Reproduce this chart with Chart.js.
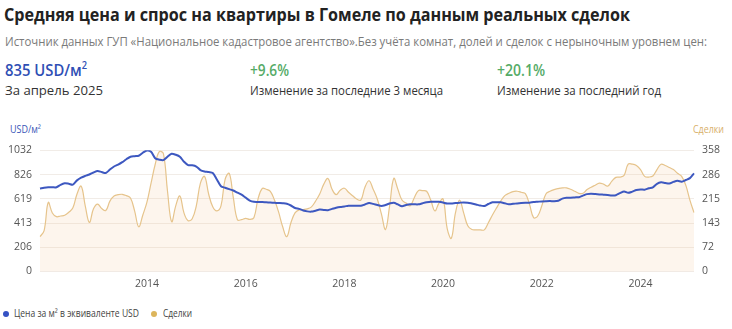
<!DOCTYPE html>
<html lang="ru">
<head>
<meta charset="utf-8">
<title>Средняя цена и спрос на квартиры в Гомеле</title>
<script src="https://cdn.jsdelivr.net/npm/chart.js@4/dist/chart.umd.min.js"></script>
<style>
  html, body { margin: 0; padding: 0; background: #fff; }
  body { width: 732px; height: 329px; position: relative; overflow: hidden; font-family: "Open Sans", "Noto Sans", sans-serif; color: #333; }
  .abs { position: absolute; white-space: nowrap; transform-origin: 0 50%; }
  .title { left: 4px; top: 2px; font-size: 18px; font-weight: 700; color: #222; }
  .source { left: 5px; top: 32px; font-size: 13px; color: #7a7a7a; }
  .big { top: 59px; font-size: 16px; font-weight: 600; }
  .big.blue { color: #2f4fb5; }
  .big.green { color: #55ab67; }
  .big sup { font-size: 10px; vertical-align: 7px; line-height: 0; }
  .cap { top: 81px; font-size: 13.5px; color: #333; }
  .axis-title { top: 122px; font-size: 10px; }
  #chartBox { position: absolute; left: 0; top: 136px; width: 732px; height: 164px; }
  .legend { top: 306px; font-size: 10.5px; color: #444; }
  .dot { position: absolute; top: 311px; width: 6px; height: 6px; border-radius: 50%; }
</style>
</head>
<body>
<div class="abs title" data-w="626">Средняя цена и спрос на квартиры в Гомеле по данным реальных сделок</div>
<div class="abs source" data-w="702">Источник данных ГУП «Национальное кадастровое агентство».Без учёта комнат, долей и сделок с нерыночным уровнем цен:</div>

<div class="abs big blue" style="left:5px" data-w="82">835 USD/м<sup>2</sup></div>
<div class="abs cap" style="left:5px" data-w="98">За апрель 2025</div>
<div class="abs big green" style="left:250px" data-w="39">+9.6%</div>
<div class="abs cap" style="left:250px" data-w="193">Изменение за последние 3 месяца</div>
<div class="abs big green" style="left:497px" data-w="48">+20.1%</div>
<div class="abs cap" style="left:497px" data-w="164">Изменение за последний год</div>

<div class="abs axis-title" style="left:10px; color:#3a56b8" data-w="31">USD/м²</div>
<div class="abs axis-title" style="left:693px; color:#d8b06a" data-w="31">Сделки</div>

<div id="chartBox"><canvas id="chart"></canvas></div>

<span class="dot" style="left:3px; background:#3552c4"></span>
<div class="abs legend" style="left:14px" data-w="125">Цена за м² в эквиваленте USD</div>
<span class="dot" style="left:151px; background:#dcb55c"></span>
<div class="abs legend" style="left:163px" data-w="29">Сделки</div>

<script>
// squeeze text blocks to their widths
document.querySelectorAll('[data-w]').forEach(el => {
  const w = el.getBoundingClientRect().width;
  el.style.transform = 'scaleX(' + (Number(el.dataset.w) / w) + ')';
});

// monthly series, Jan 2012 .. Apr 2025
const firstYear = 2012;
const monthCount = 160;

const priceUsd = [
  706, 713, 717, 717, 717, 738, 751, 747, 740, 776, 799, 814,
  826, 843, 856, 847, 839, 868, 894, 910, 931, 956, 977, 982,
  986, 1011, 1030, 1019, 965, 952, 948, 977, 1003, 994, 977, 935,
  906, 904, 894, 864, 852, 847, 839, 784, 726, 713, 701, 690,
  671, 654, 629, 604, 593, 592, 591, 589, 587, 585, 583, 581,
  577, 562, 541, 533, 520, 512, 510, 518, 527, 524, 522, 533,
  543, 550, 554, 560, 560, 560, 560, 571, 583, 576, 566, 558,
  566, 579, 586, 571, 556, 566, 572, 572, 572, 581, 589, 594,
  594, 594, 587, 579, 579, 583, 586, 588, 586, 579, 571, 562,
  558, 575, 589, 589, 589, 581, 573, 576, 580, 583, 585, 586,
  591, 594, 597, 599, 600, 598, 602, 621, 628, 629, 631, 633,
  646, 659, 661, 659, 656, 654, 652, 648, 650, 667, 681, 670,
  680, 694, 699, 697, 709, 717, 747, 759, 754, 749, 763, 772,
  765, 779, 795, 835
];

const deals = [
  103, 121, 204, 173, 162, 164, 166, 175, 188, 229, 252, 194,
  145, 185, 199, 186, 180, 208, 223, 227, 228, 224, 217, 179,
  132, 167, 205, 261, 316, 354, 348, 237, 147, 194, 223, 173,
  150, 156, 194, 261, 281, 229, 191, 179, 194, 272, 290, 218,
  153, 153, 157, 154, 159, 214, 245, 243, 237, 211, 176, 132,
  103, 144, 173, 182, 183, 185, 191, 208, 229, 258, 275, 243,
  227, 240, 246, 234, 224, 214, 211, 249, 268, 243, 214, 170,
  124, 194, 275, 243, 211, 202, 194, 218, 239, 239, 237, 211,
  179, 202, 214, 127, 98, 173, 211, 173, 135, 124, 123, 123,
  123, 144, 167, 188, 208, 224, 231, 236, 237, 234, 230, 199,
  159, 164, 194, 229, 237, 242, 245, 247, 247, 243, 237, 231,
  231, 242, 249, 255, 261, 258, 252, 266, 278, 279, 284, 317,
  317, 313, 301, 281, 279, 282, 301, 317, 313, 307, 301, 290,
  281, 255, 211, 174
];

const yearTicks = ['2014', '2016', '2018', '2020', '2022', '2024'];
const priceTicks = [0, 206.4, 412.8, 619.2, 825.6, 1032];
const dealTicks = [0, 71.6, 143.2, 214.8, 286.4, 358];

const months = [];
for (let i = 0; i < monthCount; i++) {
  const y = firstYear + Math.floor(i / 12);
  const m = String(i % 12 + 1).padStart(2, '0');
  months.push(y + '-' + m);
}

const tickFont = { family: '"Open Sans", "Noto Sans", sans-serif', size: 10.5 };
const roundTick = v => String(Math.round(v));

new Chart(document.getElementById('chart'), {
  type: 'line',
  data: {
    labels: months,
    datasets: [
      {
        label: 'Цена за м² в эквиваленте USD',
        data: priceUsd,
        yAxisID: 'price',
        borderColor: '#3d58c0',
        borderWidth: 2,
        pointRadius: 0,
        tension: 0.3,
        fill: false,
        order: 0
      },
      {
        label: 'Сделки',
        data: deals,
        yAxisID: 'deals',
        borderColor: '#e6c48c',
        borderWidth: 1.2,
        backgroundColor: 'rgba(245, 190, 140, 0.16)',
        pointRadius: 0,
        tension: 0.4,
        fill: 'origin',
        order: 1
      }
    ]
  },
  options: {
    responsive: true,
    maintainAspectRatio: false,
    animation: false,
    layout: { padding: 0 },
    plugins: { legend: { display: false }, tooltip: { enabled: false } },
    scales: {
      x: {
        grid: { display: false, drawTicks: false },
        border: { display: false },
        afterFit: s => { s.height = 28.5; },
        ticks: {
          autoSkip: false,
          maxRotation: 0,
          padding: 6,
          color: '#555',
          font: tickFont,
          callback: (v, i) => {
            const lbl = months[i];
            return lbl.endsWith('-03') && yearTicks.includes(lbl.slice(0, 4)) ? lbl.slice(0, 4) : '';
          }
        }
      },
      price: {
        position: 'left',
        min: 0,
        max: 1032,
        afterFit: s => { s.width = 40; },
        afterBuildTicks: s => { s.ticks = priceTicks.map(v => ({ value: v })); },
        grid: { color: '#f1ece7', drawTicks: false },
        border: { display: false },
        ticks: { padding: 8, color: '#555', font: tickFont, callback: roundTick }
      },
      deals: {
        position: 'right',
        min: 0,
        max: 358,
        afterFit: s => { s.width = 38; },
        afterBuildTicks: s => { s.ticks = dealTicks.map(v => ({ value: v })); },
        grid: { display: false, drawTicks: false },
        border: { display: false },
        ticks: { padding: 8, color: '#555', font: tickFont, callback: roundTick }
      }
    }
  }
});
</script>
</body>
</html>
